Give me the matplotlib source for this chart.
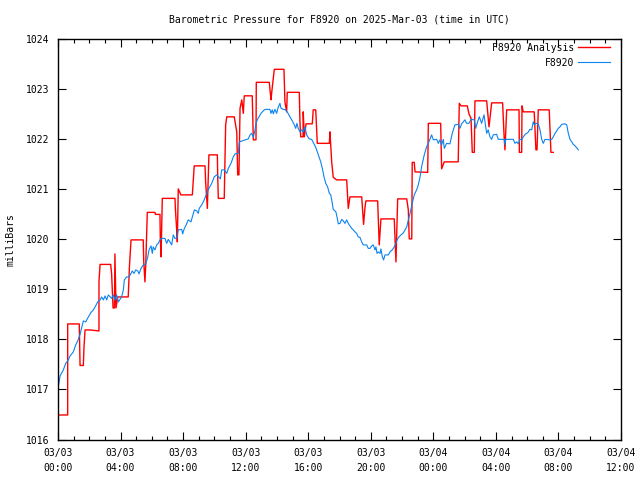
import matplotlib
matplotlib.use('Agg')
import matplotlib.pyplot as plt
from matplotlib.ticker import MultipleLocator

# Часы от 2025-03-03 00:00 UTC, давление в мбар
obs_hours = [0.02, 0.13, 0.34, 0.49, 0.66, 0.77, 0.98, 1.13, 1.26, 1.41, 1.62, 1.77, 1.94, 2.11, 2.26,
             2.37, 2.54, 2.69, 2.79, 2.90, 3.01, 3.11, 3.22, 3.43, 3.54, 3.64, 3.75, 3.86, 3.96, 4.07,
             4.18, 4.24, 4.39, 4.54, 4.67, 4.75, 4.86, 4.97, 5.10, 5.18, 5.31, 5.45, 5.61, 5.74, 5.82,
             5.95, 6.03, 6.09, 6.20, 6.31, 6.41, 6.52, 6.63, 6.84, 6.95, 7.05, 7.16, 7.27, 7.37, 7.48,
             7.59, 7.69, 7.91, 7.97, 8.08, 8.17, 8.33, 8.50, 8.59, 8.72, 8.87, 8.97, 9.03, 9.19, 9.35,
             9.51, 9.65, 9.83, 9.99, 10.15, 10.29, 10.38, 10.47, 10.63, 10.79, 10.89, 11.06, 11.21,
             11.32, 11.53, 11.59, 12.17, 12.28, 12.38, 12.49, 12.60, 12.64, 12.74, 12.85, 12.98, 13.13,
             13.24, 13.55, 13.62, 13.70, 13.77, 13.87, 13.98, 14.09, 14.19, 14.26, 14.41, 14.56, 14.69,
             14.83, 14.98, 15.11, 15.20, 15.28, 15.36, 15.47, 15.58, 15.68, 15.79, 15.90, 16.05, 16.22,
             16.35, 16.48, 16.58, 16.69, 16.80, 16.90, 17.01, 17.12, 17.24, 17.35, 17.44, 17.50, 17.60,
             17.77, 17.88, 17.92, 18.03, 18.14, 18.24, 18.35, 18.46, 18.56, 18.67, 18.78, 18.88, 18.99,
             19.10, 19.20, 19.31, 19.42, 19.52, 19.74, 19.84, 19.95, 20.06, 20.16, 20.27, 20.33, 20.40,
             20.48, 20.59, 20.65, 20.74, 20.82, 20.91, 21.12, 21.23, 21.37, 21.50, 21.59, 21.68, 21.80,
             21.93, 22.08, 22.19, 22.30, 22.40, 22.51, 22.65, 22.78, 22.93, 23.04, 23.15, 23.25, 23.42,
             23.57, 23.72, 23.89, 24.00, 24.21, 24.32, 24.42, 24.53, 24.64, 24.70, 24.85, 25.06, 25.21,
             25.38, 25.60, 25.70, 25.81, 26.02, 26.13, 26.28, 26.41, 26.62, 26.71, 26.83, 26.94, 27.09,
             27.24, 27.41, 27.51, 27.62, 27.73, 27.83, 28.05, 28.15, 28.54, 28.58, 28.63, 29.11, 29.22,
             29.33, 29.43, 29.54, 29.65, 29.75, 29.90, 30.03, 30.18, 30.29, 30.39, 30.46, 30.55, 30.71,
             30.82, 30.93, 31.03, 31.14, 31.46, 31.57, 31.67, 31.78, 31.89, 31.99, 32.10, 32.21, 32.42,
             32.53, 32.63, 32.74, 32.85, 32.95, 33.06, 33.17, 33.27]
obs_mbar = [1017.06, 1017.27, 1017.39, 1017.52, 1017.59, 1017.67, 1017.75, 1017.89, 1017.97, 1018.10,
            1018.37, 1018.35, 1018.45, 1018.54, 1018.59, 1018.65, 1018.75, 1018.79, 1018.85, 1018.79,
            1018.87, 1018.79, 1018.89, 1018.82, 1018.89, 1018.79, 1018.89, 1018.75, 1018.80, 1018.85,
            1018.99, 1019.19, 1019.25, 1019.25, 1019.32, 1019.37, 1019.32, 1019.39, 1019.37, 1019.31,
            1019.42, 1019.49, 1019.51, 1019.65, 1019.79, 1019.87, 1019.72, 1019.85, 1019.79, 1019.89,
            1019.92, 1019.99, 1020.02, 1020.02, 1019.92, 1020.00, 1019.95, 1019.89, 1020.09, 1020.02,
            1020.02, 1020.19, 1020.20, 1020.11, 1020.22, 1020.27, 1020.39, 1020.35, 1020.45, 1020.59,
            1020.57, 1020.52, 1020.62, 1020.69, 1020.79, 1020.92, 1021.02, 1021.12, 1021.25, 1021.29,
            1021.24, 1021.21, 1021.39, 1021.39, 1021.32, 1021.42, 1021.52, 1021.65, 1021.71, 1021.72,
            1021.95, 1022.01, 1022.09, 1022.12, 1022.04, 1022.19, 1022.29, 1022.39, 1022.45, 1022.52,
            1022.57, 1022.60, 1022.60, 1022.52, 1022.59, 1022.51, 1022.60, 1022.52, 1022.65, 1022.72,
            1022.62, 1022.60, 1022.59, 1022.53, 1022.45, 1022.37, 1022.29, 1022.22, 1022.32, 1022.22,
            1022.15, 1022.19, 1022.15, 1022.25, 1022.09, 1022.01, 1022.00, 1021.92, 1021.84, 1021.75,
            1021.65, 1021.55, 1021.42, 1021.25, 1021.12, 1021.05, 1020.92, 1020.89, 1020.79, 1020.60,
            1020.55, 1020.39, 1020.31, 1020.32, 1020.40, 1020.37, 1020.32, 1020.39, 1020.32, 1020.27,
            1020.22, 1020.19, 1020.15, 1020.12, 1020.05, 1020.04, 1019.95, 1019.89, 1019.89, 1019.82,
            1019.82, 1019.87, 1019.89, 1019.79, 1019.85, 1019.72, 1019.75, 1019.72, 1019.81, 1019.65,
            1019.59, 1019.69, 1019.69, 1019.75, 1019.79, 1019.85, 1019.91, 1019.99, 1020.05, 1020.09,
            1020.13, 1020.19, 1020.25, 1020.39, 1020.52, 1020.72, 1020.89, 1020.99, 1021.09, 1021.25,
            1021.45, 1021.69, 1021.85, 1021.95, 1022.09, 1021.99, 1022.00, 1021.92, 1021.99, 1021.89,
            1022.00, 1021.82, 1021.92, 1021.91, 1022.12, 1022.29, 1022.30, 1022.22, 1022.31, 1022.39,
            1022.32, 1022.32, 1022.40, 1022.39, 1022.22, 1022.35, 1022.45, 1022.32, 1022.49, 1022.12,
            1022.19, 1022.05, 1022.00, 1022.09, 1022.10, 1022.00, 1022.00, 1021.89, 1022.00, 1022.00,
            1021.92, 1021.95, 1021.91, 1022.00, 1021.99, 1022.05, 1022.11, 1022.13, 1022.20, 1022.19,
            1022.35, 1022.29, 1022.32, 1022.31, 1022.19, 1022.00, 1021.92, 1022.00, 1021.99, 1022.00,
            1022.05, 1022.12, 1022.17, 1022.22, 1022.25, 1022.30, 1022.31, 1022.29, 1022.12, 1022.00,
            1021.95, 1021.90, 1021.87, 1021.83, 1021.79]

ana_hours = [0.00, 0.62, 0.62, 1.36, 1.41, 1.62, 1.66, 1.73, 2.05, 2.62, 2.62, 2.69, 3.37, 3.43, 3.52,
             3.61, 3.64, 3.71, 3.82, 4.49, 4.57, 4.67, 5.45, 5.48, 5.56, 5.61, 5.71, 6.20, 6.23, 6.52,
             6.54, 6.59, 6.67, 7.48, 7.51, 7.59, 7.63, 7.69, 7.86, 8.59, 8.71, 9.40, 9.44, 9.55, 9.65,
             10.19, 10.21, 10.25, 10.63, 10.72, 10.79, 11.27, 11.43, 11.49, 11.57, 11.64, 11.75, 11.85,
             11.91, 12.42, 12.49, 12.66, 12.68, 13.51, 13.62, 13.66, 13.83, 14.45, 14.51, 14.62, 14.66,
             15.43, 15.47, 15.52, 15.67, 15.68, 15.75, 15.86, 16.26, 16.32, 16.48, 16.58, 17.35, 17.39,
             17.50, 17.60, 17.82, 18.46, 18.56, 18.67, 19.42, 19.54, 19.63, 19.69, 20.44, 20.54, 20.65,
             21.50, 21.61, 21.72, 22.30, 22.40, 22.46, 22.62, 22.65, 22.78, 22.83, 23.64, 23.68, 24.47,
             24.53, 24.70, 25.59, 25.66, 25.77, 26.17, 26.28, 26.41, 26.49, 26.62, 26.66, 27.41, 27.56,
             27.73, 28.43, 28.52, 28.58, 28.69, 29.48, 29.50, 29.65, 29.67, 29.75, 30.45, 30.56, 30.63,
             30.71, 31.41, 31.52, 31.67]
ana_mbar = [1016.49, 1016.49, 1018.31, 1018.31, 1017.48, 1017.48, 1017.83, 1018.19, 1018.19, 1018.17,
            1019.15, 1019.50, 1019.50, 1019.30, 1018.63, 1018.63, 1019.71, 1018.63, 1018.85, 1018.85,
            1019.47, 1019.99, 1019.99, 1019.57, 1019.15, 1019.49, 1020.54, 1020.54, 1020.50, 1020.50,
            1020.05, 1019.65, 1020.82, 1020.82, 1020.59, 1020.19, 1019.95, 1021.01, 1020.89, 1020.89,
            1021.47, 1021.47, 1021.15, 1020.62, 1021.69, 1021.69, 1021.29, 1020.82, 1020.82, 1022.29,
            1022.45, 1022.45, 1022.15, 1021.29, 1021.29, 1022.62, 1022.79, 1022.52, 1022.87, 1022.87,
            1021.99, 1021.99, 1023.14, 1023.14, 1022.79, 1022.92, 1023.40, 1023.40, 1022.75, 1022.55,
            1022.94, 1022.94, 1022.35, 1022.05, 1022.05, 1022.55, 1022.05, 1022.31, 1022.31, 1022.59,
            1022.59, 1021.92, 1021.92, 1022.15, 1021.55, 1021.24, 1021.19, 1021.19, 1020.62, 1020.85,
            1020.85, 1020.30, 1020.64, 1020.77, 1020.77, 1019.89, 1020.41, 1020.41, 1019.55, 1020.81,
            1020.81, 1020.59, 1020.01, 1020.01, 1021.54, 1021.54, 1021.35, 1021.34, 1022.32, 1022.32,
            1021.41, 1021.55, 1021.55, 1022.72, 1022.67, 1022.67, 1022.51, 1022.42, 1021.74, 1021.74,
            1022.77, 1022.77, 1022.25, 1022.73, 1022.73, 1022.09, 1021.79, 1022.59, 1022.59, 1021.74,
            1021.74, 1022.67, 1022.55, 1022.55, 1021.79, 1021.79, 1022.59, 1022.59, 1021.74, 1021.74]

tick_hours = [0, 4, 8, 12, 16, 20, 24, 28, 32, 36]
tick_labels = ['03/03\n00:00', '03/03\n04:00', '03/03\n08:00', '03/03\n12:00', '03/03\n16:00',
               '03/03\n20:00', '03/04\n00:00', '03/04\n04:00', '03/04\n08:00', '03/04\n12:00']

plt.rcParams['font.family'] = 'DejaVu Sans Mono'
plt.rcParams['font.size'] = 7

fig = plt.figure(figsize=(6.4, 4.8), dpi=100)
ax = fig.add_axes([58 / 640, 1 - 439.5 / 480, 563 / 640, 400.2 / 480])

ax.plot(ana_hours, ana_mbar, color='#ff0000', lw=1.0, label='F8920 Analysis')
ax.plot(obs_hours, obs_mbar, color='#0a84f0', lw=0.8, label='F8920')

ax.set_xlim(0, 36)
ax.set_ylim(1016, 1024)
ax.set_xticks(tick_hours)
ax.set_xticklabels(tick_labels, linespacing=1.6)
ax.xaxis.set_minor_locator(MultipleLocator(1))
ax.set_yticks(range(1016, 1025))
ax.tick_params(which='both', direction='in', top=True, right=True, width=0.8)
ax.tick_params(which='major', length=6)
ax.tick_params(which='minor', length=3)
ax.tick_params(axis='x', pad=6)
ax.tick_params(axis='y', pad=6)
for s in ax.spines.values():
    s.set_linewidth(1.0)

ax.set_ylabel('milliBars', labelpad=8)
fig.suptitle('Barometric Pressure for F8920 on 2025-Mar-03 (time in UTC)', x=339.5 / 640, y=1 - 14 / 480,
             fontsize=7)

ax.legend(loc='upper right', frameon=False, markerfirst=False, handlelength=3.3, handletextpad=0.4,
          labelspacing=0.5, borderaxespad=0.15, bbox_to_anchor=(0.99, 1.005), fontsize=7)

fig.savefig('out.png', dpi=100)
